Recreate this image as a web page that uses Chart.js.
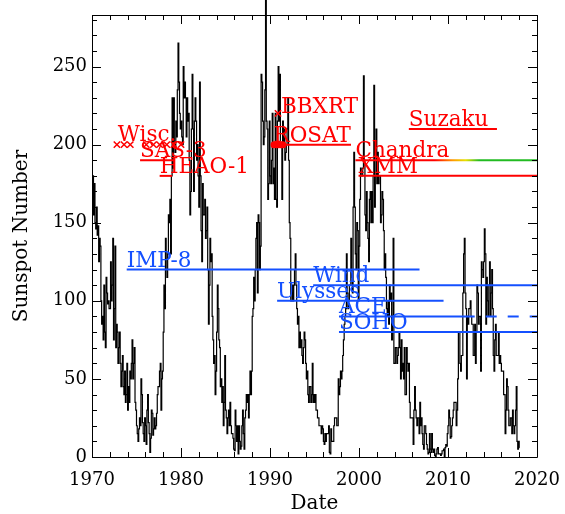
<!DOCTYPE html>
<html>
<head>
<meta charset="utf-8">
<script src="https://cdn.jsdelivr.net/npm/chart.js@4.4.1/dist/chart.umd.min.js"></script>
<style>
  html, body { margin:0; padding:0; background:#fff; }
  #wrap { width:565px; height:514px; }
</style>
</head>
<body>
<div id="wrap"><canvas id="c" width="565" height="514"></canvas></div>
<script>
// monthly sunspot number, Jan 1970 .. Jan 2018
const startYear = 1970;
const sunspots = [
  159,180,155,175,150,146,160,142,148,125,140,135, // 1970
  100,85,90,75,110,80,70,115,105,98,100,95,        // 1971
  95,125,100,110,140,75,95,135,70,85,80,60,        // 1972
  70,80,60,45,55,65,45,40,55,35,40,60,             // 1973
  30,45,35,55,50,60,75,50,60,70,35,30,             // 1974
  20,15,10,18,25,20,50,40,22,15,10,25,             // 1975
  20,8,30,40,22,15,3,12,30,28,14,18,               // 1976
  25,18,20,28,40,45,45,55,60,30,50,55,             // 1977
  80,110,95,140,120,115,130,155,150,165,130,180,   // 1978
  230,185,230,200,195,215,205,235,265,240,220,210, // 1979
  215,205,200,250,230,240,230,205,230,215,220,190, // 1980
  155,170,210,245,210,170,215,230,215,190,200,180, // 1981
  160,240,180,145,125,175,155,155,165,140,145,160, // 1982
  120,85,110,140,125,130,90,75,60,65,40,55,        // 1983
  80,110,95,75,70,45,50,35,45,20,35,65,            // 1984
  30,25,15,25,30,20,35,20,15,15,12,5,              // 1985
  4,30,20,10,20,2,20,10,5,7,20,30,                 // 1986
  15,5,25,30,40,35,40,25,40,55,40,55,              // 1987
  90,95,115,100,120,140,150,105,155,150,120,135,   // 1988
  245,240,215,200,205,235,293,215,210,165,175,215, // 1989
  180,175,190,220,175,185,165,220,165,160,215,250, // 1990
  215,245,200,200,165,215,200,210,190,195,200,210, // 1991
  230,190,150,140,100,100,110,100,110,120,130,110, // 1992
  95,85,90,70,80,70,75,65,60,70,80,75,             // 1993
  60,50,55,40,35,45,45,35,40,60,35,40,             // 1994
  35,40,30,30,25,25,20,20,20,15,20,18,             // 1995
  10,8,15,10,15,15,15,20,3,2,18,10,                // 1996
  10,10,20,25,25,25,20,20,50,40,45,55,             // 1997
  50,55,65,75,85,90,95,130,105,95,100,110,         // 1998
  110,140,115,105,160,195,160,130,120,150,145,100, // 1999
  135,165,185,180,180,185,244,190,155,145,170,150, // 2000
  140,125,165,170,150,170,150,180,238,160,180,210, // 2001
  175,195,175,180,180,150,155,170,165,145,120,130, // 2002
  115,95,90,100,85,110,100,105,75,90,140,60,       // 2003
  60,70,70,60,65,70,80,70,50,75,55,60,             // 2004
  50,70,40,40,70,60,55,60,35,25,25,25,             // 2005
  25,8,30,45,30,25,20,25,25,15,35,20,              // 2006
  25,15,8,5,20,20,15,8,5,2,3,15,                   // 2007
  5,3,15,5,3,5,1,0,2,5,6,2,                        // 2008
  2,2,1,2,4,4,5,0,6,8,7,15,                        // 2009
  20,30,25,12,13,20,25,30,35,35,35,20,             // 2010
  30,50,80,80,60,55,65,65,105,130,140,105,         // 2011
  95,50,90,85,95,95,100,90,85,85,65,65,            // 2012
  85,60,80,110,105,85,90,90,55,125,120,115,        // 2013
  125,146,130,85,115,100,90,110,125,90,105,120,    // 2014
  95,65,55,75,85,65,65,65,80,60,65,60,             // 2015
  55,55,55,40,40,15,30,50,45,30,20,20,             // 2016
  25,25,15,30,20,15,20,30,45,10,5,10,              // 2017
  6                                                // 2018
];

// X-ray missions (red)
const redNames = ['SAS-3', 'HEAO-1', 'ROSAT', 'Chandra', 'XMM', 'Suzaku'];
const redStart = [1975.4, 1977.6, 1990.4, 1999.6, 1999.95, 2005.6];
const redEnd   = [1979.3, 1979.0, 1999.1, 2020, 2020, 2015.5];
const redLevel = [190, 180, 200, 190, 180, 210];

// Wisconsin rocket flights and other single flights
const wiscDates = [1972.8, 1973.6, 1974.3, 1976.1, 1976.9, 1977.6, 1978.4, 1979.2, 1980.0];
const wiscLevel = 200;
const bbxrtDate = 1990.9;
const bbxrtLevel = 220;
const rosatDots = [1990.45, 1990.7, 1990.95, 1991.2, 1991.45];

// solar wind missions (blue)
const blueNames = ['IMP-8', 'Wind', 'Ulysses', 'ACE', 'SOHO'];
const blueStart = [1973.9, 1994.85, 1990.8, 1997.75, 1997.75];
const blueEnd   = [2006.8, 2020, 2009.5, 2013.0, 2020];
const blueLevel = [120, 110, 100, 90, 80];
const aceDashedEnd = 2020;

const xLabels = [1970, 1980, 1990, 2000, 2010, 2020];
const yLabels = [0, 50, 100, 150, 200, 250];
const xMinor = 2, yMinor = 10;

const RED = '#ff0000', BLUE = '#1450ff';
const FONT = 'DejaVu Serif';

function chandraColor(ctx) {
  const chart = ctx.chart;
  if (!chart.chartArea) return RED;
  const x = chart.scales.x;
  const g = chart.ctx.createLinearGradient(x.getPixelForValue(2008.5), 0, x.getPixelForValue(2013.5), 0);
  g.addColorStop(0, RED);
  g.addColorStop(0.4, '#ff9900');
  g.addColorStop(0.7, '#e6e000');
  g.addColorStop(1, '#22bb22');
  return g;
}

const datasets = [];
redNames.forEach((n, i) => datasets.push({
  data: [{ x: redStart[i], y: redLevel[i] }, { x: redEnd[i], y: redLevel[i] }],
  borderColor: n === 'Chandra' ? chandraColor : RED, borderWidth: 2, pointRadius: 0
}));
blueNames.forEach((n, i) => datasets.push({
  data: [{ x: blueStart[i], y: blueLevel[i] }, { x: blueEnd[i], y: blueLevel[i] }],
  borderColor: BLUE, borderWidth: 2, pointRadius: 0
}));
datasets.push({
  data: [{ x: blueEnd[3], y: blueLevel[3] }, { x: aceDashedEnd, y: blueLevel[3] }],
  borderColor: BLUE, borderWidth: 2, pointRadius: 0, borderDash: [11, 11], borderDashOffset: 11
});
datasets.push({
  data: wiscDates.map(d => ({ x: d, y: wiscLevel })), showLine: false,
  pointStyle: 'crossRot', pointRadius: 4.5, borderColor: RED, borderWidth: 1.5
});
datasets.push({
  data: [{ x: bbxrtDate, y: bbxrtLevel }], showLine: false,
  pointStyle: 'crossRot', pointRadius: 4.5, borderColor: RED, borderWidth: 1.5
});
datasets.push({
  data: rosatDots.map(d => ({ x: d, y: redLevel[2] })), showLine: false,
  pointStyle: 'circle', pointRadius: 3.5, borderWidth: 0, backgroundColor: RED
});
// the 1989 peak runs past the top of the frame, as in the original plot
datasets.push({
  data: sunspots.map((v, i) => ({ x: startYear + (i + 0.5) / 12, y: v })),
  borderColor: '#000', borderWidth: 1.2, pointRadius: 0, stepped: 'middle', order: 1, clip: false
});

// frame with inward major/minor ticks on all four sides
const frame = {
  id: 'frame',
  afterDatasetsDraw(chart) {
    const { ctx, chartArea: a, scales: { x, y } } = chart;
    ctx.save();
    ctx.strokeStyle = '#000';
    ctx.lineWidth = 1;
    ctx.beginPath();
    ctx.rect(a.left + 0.5, a.top + 0.5, a.right - a.left, a.bottom - a.top);
    for (let v = x.min; v <= x.max + 0.01; v += xMinor) {
      const px = Math.round(x.getPixelForValue(v)) + 0.5;
      const len = xLabels.includes(v) ? 9 : 5;
      ctx.moveTo(px, a.bottom); ctx.lineTo(px, a.bottom - len);
      ctx.moveTo(px, a.top); ctx.lineTo(px, a.top + len);
    }
    for (let v = 0; v <= y.max; v += yMinor) {
      const py = Math.round(y.getPixelForValue(v)) + 0.5;
      const len = yLabels.includes(v) ? 9 : 5;
      ctx.moveTo(a.left, py); ctx.lineTo(a.left + len, py);
      ctx.moveTo(a.right, py); ctx.lineTo(a.right - len, py);
    }
    ctx.stroke();

    // mission labels
    ctx.font = '21.5px "' + FONT + '"';
    ctx.textAlign = 'left';
    ctx.textBaseline = 'alphabetic';
    ctx.fillStyle = RED;
    redNames.forEach((n, i) => ctx.fillText(n, x.getPixelForValue(redStart[i]), y.getPixelForValue(redLevel[i]) - 3));
    ctx.fillText('Wisc.', x.getPixelForValue(1972.9), y.getPixelForValue(wiscLevel) - 4);
    ctx.fillText('BBXRT', x.getPixelForValue(bbxrtDate) + 3, y.getPixelForValue(bbxrtLevel));
    ctx.fillStyle = BLUE;
    blueNames.forEach((n, i) => ctx.fillText(n, x.getPixelForValue(blueStart[i]), y.getPixelForValue(blueLevel[i]) - 3));
    ctx.restore();
  }
};

new Chart(document.getElementById('c'), {
  type: 'line',
  data: { datasets },
  plugins: [frame],
  options: {
    responsive: false, animation: false, devicePixelRatio: 1,
    layout: { padding: { top: 15, right: 28, left: 0, bottom: 0 } },
    plugins: { legend: { display: false }, tooltip: { enabled: false } },
    scales: {
      x: {
        type: 'linear', min: 1970, max: 2020,
        afterFit: s => { s.height = 57; s.paddingLeft = 0; s.paddingRight = 0; },
        grid: { display: false, drawTicks: false }, border: { display: false },
        ticks: { stepSize: 10, padding: 13, color: '#000', font: { family: FONT, size: 18 }, callback: v => v },
        title: { display: true, text: 'Date', color: '#000', font: { family: FONT, size: 20, lineHeight: 1 }, padding: { top: 0, bottom: 0 } }
      },
      y: {
        min: 0, max: 283,
        afterFit: s => { s.width = 92; s.paddingTop = 0; s.paddingBottom = 0; },
        grid: { display: false, drawTicks: false }, border: { display: false },
        ticks: { stepSize: 50, includeBounds: false, padding: 5, color: '#000', font: { family: FONT, size: 18 } },
        title: { display: true, text: 'Sunspot Number', color: '#000', font: { family: FONT, size: 20 }, padding: { top: 10, bottom: 0 } }
      }
    }
  }
});
</script>
</body>
</html>
